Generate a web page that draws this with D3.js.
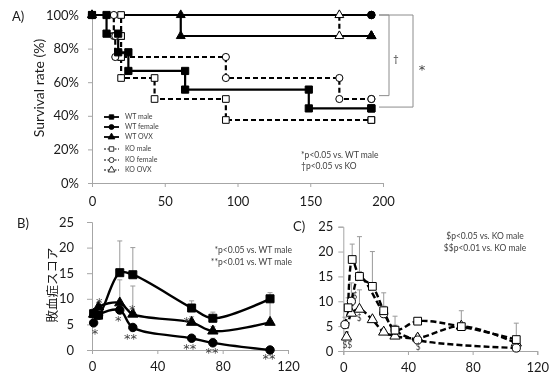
<!DOCTYPE html>
<html>
<head>
<meta charset="utf-8">
<script src="https://cdn.jsdelivr.net/npm/d3@7"></script>
<style>
  body { margin: 0; background: #fff; }
  svg { will-change: transform; }
  text { font-family: Lato, "Noto Sans", sans-serif; }
</style>
</head>
<body>
<svg id="chart" width="551" height="379"></svg>
<script>
// ---------- Panel A: survival (Kaplan-Meier), days vs %
var aXTicks = [0, 50, 100, 150, 200];
var aYTicks = [0, 20, 40, 60, 80, 100];
var wtMaleT   = [0, 10, 18, 25, 64, 149, 192];
var wtMaleS   = [100, 88.9, 77.8, 66.7, 55.6, 44.4, 44.4];
var wtFemaleT = [0, 192];
var wtFemaleS = [100, 100];
var wtOvxT    = [0, 61, 192];
var wtOvxS    = [100, 87.5, 87.5];
var koMaleT   = [0, 20, 20, 20, 43, 92, 192];
var koMaleS   = [100, 87.5, 75, 62.5, 50, 37.5, 37.5];
var koFemaleT = [0, 15, 16, 92, 170, 192];
var koFemaleS = [100, 87.5, 75, 62.5, 50, 50];
var koOvxT    = [0, 170, 192];
var koOvxS    = [100, 87.5, 87.5];
var groupNames = ["WT male", "WT female", "WT OVX", "KO male", "KO female", "KO OVX"];

// ---------- Panel B: sepsis score, WT groups (hours)
var bXTicks = [0, 40, 80, 120];
var scoreTicks = [0, 5, 10, 15, 20, 25];
var bTime      = [1, 4, 17, 25, 61, 74, 109];
var bMale      = [7.1, 6.8, 15.1, 14.7, 8.2, 6.2, 10.0];
var bMaleErr   = [0.9, 1.4, 6.2, 5.3, 1.4, 1.2, 1.2];
var bFemale    = [5.3, 6.8, 7.8, 4.4, 2.3, 1.4, 0];
var bFemaleErr = [0.6, 0.6, 0.6, 0.6, 0.4, 0.9, 0];
var bOvx       = [7.0, 8.4, 9.2, 7.0, 5.4, 3.7, 5.4];
var bOvxErr    = [0.8, 0.8, 4.5, 5.5, 1.1, 0.9, 4.5];
var bStarX   = [1.8, 4.5, 16.1, 24.7, 23.5, 58, 59.8, 73.5, 108.4];
var bStarY   = [3.9, 9.8, 6.4, 8.6, 2.8, 6.2, 0.8, 0.1, -1.1];
var bStarTxt = ["*", "*", "*", "*", "**", "*", "**", "**", "**"];

// ---------- Panel C: sepsis score, KO groups (hours)
var cXTicks = [0, 40, 80, 120];
var cMaleT     = [3, 5.5, 10, 18, 25, 32, 46, 73, 107];
var cMale      = [8.7, 18.4, 15.0, 13.0, 8.1, 4.2, 6.0, 4.9, 2.3];
var cMaleErr   = [2.0, 3.1, 8.0, 7.0, 3.6, 2.8, 0.5, 3.2, 3.3];
var cFemaleT   = [1, 5, 10, 25, 32, 46, 107];
var cFemale    = [5.3, 10.0, 15.0, 7.5, 4.2, 2.2, 0.6];
var cFemaleErr = [1.5, 3.7, 1.0, 1.5, 1.0, 1.0, 0.3];
var cOvxT      = [2, 5, 10, 18, 25, 32, 46, 73, 107];
var cOvx       = [2.8, 7.6, 8.4, 6.3, 3.8, 3.0, 2.6, 5.0, 1.6];
var cOvxErr    = [1.0, 1.5, 3.9, 0.5, 0.5, 0.5, 0.6, 0.6, 0.8];
var cSignX   = [2.5, 7.2, 9.9, 46.4];
var cSignY   = [1.2, 11.1, 6.6, 0.9];
var cSignTxt = ["$$", "$", "$", "$"];

var axisColor = "#a6a6a6",
    textColor = "#1a1a1a",
    noteColor = "#404040",
    errColor = "#9a9a9a";

var svg = d3.select("#chart");
svg.append("rect").attr("width", 551).attr("height", 379).attr("fill", "#fff");

function styleAxis(g, size) {
  g.select(".domain").attr("stroke", axisColor);
  g.selectAll(".tick line").attr("stroke", axisColor);
  g.selectAll(".tick text")
    .attr("fill", textColor)
    .style("font-family", "Lato")
    .style("font-size", size + "px");
}

function zip(xs, ys) {
  return xs.map(function (x, i) { return [x, ys[i]]; });
}

// ============ Panel A ============
var xA = d3.scaleLinear().domain([0, 200]).range([92, 383]);
var yA = d3.scaleLinear().domain([0, 100]).range([183, 15]);

svg.append("g")
  .attr("transform", "translate(0,183)")
  .call(d3.axisBottom(xA).tickValues(aXTicks).tickSize(4).tickPadding(10))
  .call(styleAxis, 13);

svg.append("g")
  .attr("transform", "translate(92,0)")
  .call(d3.axisLeft(yA).tickValues(aYTicks).tickSize(4).tickPadding(9)
    .tickFormat(function (d) { return d + "%"; }))
  .call(styleAxis, 13);

var aSeries = [
  { t: koMaleT,   s: koMaleS,   sym: d3.symbolSquare,   size: 44, open: true },
  { t: koFemaleT, s: koFemaleS, sym: d3.symbolCircle,   size: 40, open: true },
  { t: koOvxT,    s: koOvxS,    sym: d3.symbolTriangle, size: 34, open: true },
  { t: wtOvxT,    s: wtOvxS,    sym: d3.symbolTriangle, size: 34, open: false },
  { t: wtFemaleT, s: wtFemaleS, sym: d3.symbolCircle,   size: 44, open: false },
  { t: wtMaleT,   s: wtMaleS,   sym: d3.symbolSquare,   size: 52, open: false }
];

var stepLine = d3.line()
  .curve(d3.curveStepAfter)
  .x(function (d) { return xA(d[0]); })
  .y(function (d) { return yA(d[1]); });

aSeries.forEach(function (ser) {
  svg.append("path")
    .attr("d", stepLine(zip(ser.t, ser.s)))
    .attr("fill", "none")
    .attr("stroke", "#000")
    .attr("stroke-width", 2.2)
    .attr("stroke-dasharray", ser.open ? "5,3" : null);
});

aSeries.forEach(function (ser) {
  // a marker before and after every step
  var pts = [[ser.t[0], ser.s[0]]];
  for (var k = 1; k < ser.t.length; k++) {
    pts.push([ser.t[k], ser.s[k - 1]]);
    pts.push([ser.t[k], ser.s[k]]);
  }
  svg.selectAll(null)
    .data(pts)
    .enter()
    .append("path")
    .attr("d", d3.symbol().type(ser.sym).size(ser.size))
    .attr("transform", function (d) {
      return "translate(" + xA(d[0]) + "," + yA(d[1]) + ")";
    })
    .attr("fill", ser.open ? "#fff" : "#000")
    .attr("stroke", "#000")
    .attr("stroke-width", 1);
});

// legend
var legendSym = [d3.symbolSquare, d3.symbolCircle, d3.symbolTriangle,
                 d3.symbolSquare, d3.symbolCircle, d3.symbolTriangle];
var legendY = [117, 127, 137, 149, 160, 170];
var legend = svg.selectAll(".legend")
  .data(groupNames)
  .enter()
  .append("g")
  .attr("class", "legend")
  .attr("transform", function (d, i) { return "translate(104," + legendY[i] + ")"; });

legend.append("line")
  .attr("x1", 0).attr("x2", 15)
  .attr("stroke", "#000")
  .attr("stroke-width", function (d, i) { return i < 3 ? 1.8 : 1; })
  .attr("stroke-dasharray", function (d, i) { return i < 3 ? null : "2,1.5"; });

legend.append("path")
  .attr("d", function (d, i) { return d3.symbol().type(legendSym[i]).size(20)(); })
  .attr("transform", "translate(7.5,0)")
  .attr("fill", function (d, i) { return i < 3 ? "#000" : "#fff"; })
  .attr("stroke", "#000")
  .attr("stroke-width", 0.8);

legend.append("text")
  .attr("x", 21)
  .attr("dy", "0.35em")
  .attr("fill", noteColor)
  .style("font-size", "7px")
  .text(function (d) { return d; });

// significance brackets
var bracketColor = "#8c8c8c";
svg.append("path")
  .attr("d", "M" + (xA(200) - 4) + "," + yA(100) + "H" + (xA(200) + 6) +
             "V" + yA(52) + "H" + (xA(200) - 4))
  .attr("fill", "none").attr("stroke", bracketColor).attr("stroke-width", 1);
svg.append("path")
  .attr("d", "M" + (xA(200) - 4) + "," + yA(100) + "H" + (xA(200) + 30) +
             "V" + yA(45.2) + "H" + (xA(200) - 4))
  .attr("fill", "none").attr("stroke", bracketColor).attr("stroke-width", 1);
svg.append("text").attr("x", 396).attr("y", 62).attr("text-anchor", "middle")
  .attr("fill", noteColor).style("font-size", "10px").text("†");
svg.append("text").attr("x", 422).attr("y", 66).attr("dy", "0.58em")
  .attr("text-anchor", "middle")
  .attr("fill", noteColor)
  .style("font-family", "'DejaVu Sans'").style("font-size", "13px").text("*");

svg.append("text").attr("x", 301).attr("y", 158)
  .attr("fill", noteColor).style("font-size", "8.5px").text("*p<0.05 vs. WT male");
svg.append("text").attr("x", 301).attr("y", 169)
  .attr("fill", noteColor).style("font-size", "8.5px").text("†p<0.05 vs KO");

svg.append("text").attr("x", 12).attr("y", 21)
  .attr("fill", textColor).style("font-size", "13px").text("A)");
svg.append("text")
  .attr("transform", "translate(44,88) rotate(-90)")
  .attr("text-anchor", "middle")
  .attr("fill", textColor).style("font-size", "14px")
  .text("Survival rate (%)");

// ============ Panel B / C helpers ============
function scorePanel(xS, yS, xTicks, yPad, xPad) {
  svg.append("g")
    .attr("transform", "translate(0," + yS.range()[0] + ")")
    .call(d3.axisBottom(xS).tickValues(xTicks).tickSize(4).tickPadding(xPad))
    .call(styleAxis, 13);
  svg.append("g")
    .attr("transform", "translate(" + xS.range()[0] + ",0)")
    .call(d3.axisLeft(yS).tickValues(scoreTicks).tickSize(5).tickPadding(yPad))
    .call(styleAxis, 13);
}

function scoreSeries(xS, yS, ts, vs, errs, sym, size, open) {
  var pts = zip(ts, vs);
  // upper error bars
  var eb = svg.append("g");
  pts.forEach(function (p, i) {
    if (!errs[i]) return;
    var top = yS(p[1] + errs[i]);
    eb.append("line")
      .attr("x1", xS(p[0])).attr("x2", xS(p[0]))
      .attr("y1", yS(p[1])).attr("y2", top)
      .attr("stroke", errColor).attr("stroke-width", 1);
    eb.append("line")
      .attr("x1", xS(p[0]) - 2.5).attr("x2", xS(p[0]) + 2.5)
      .attr("y1", top).attr("y2", top)
      .attr("stroke", errColor).attr("stroke-width", 1);
  });
  var line = d3.line()
    .curve(d3.curveCatmullRom.alpha(0.5))
    .x(function (d) { return xS(d[0]); })
    .y(function (d) { return yS(d[1]); });
  var s = { path: null, pts: pts, sym: sym, size: size, open: open };
  s.path = svg.append("path")
    .attr("d", line(pts))
    .attr("fill", "none")
    .attr("stroke", "#000")
    .attr("stroke-width", 2.4)
    .attr("stroke-dasharray", open ? "6,3" : null);
  return s;
}

function scoreMarkers(xS, yS, s) {
  svg.selectAll(null)
    .data(s.pts)
    .enter()
    .append("path")
    .attr("d", d3.symbol().type(s.sym).size(s.size))
    .attr("transform", function (d) {
      return "translate(" + xS(d[0]) + "," + yS(d[1]) + ")";
    })
    .attr("fill", s.open ? "#fff" : "#000")
    .attr("stroke", "#000")
    .attr("stroke-width", 1);
}

// ============ Panel B ============
var xB = d3.scaleLinear().domain([0, 120]).range([92, 288]);
var yB = d3.scaleLinear().domain([0, 25]).range([350, 222]);
scorePanel(xB, yB, bXTicks, 13, 8);

var bS = [
  scoreSeries(xB, yB, bTime, bFemale, bFemaleErr, d3.symbolCircle, 56, false),
  scoreSeries(xB, yB, bTime, bOvx, bOvxErr, d3.symbolTriangle, 46, false),
  scoreSeries(xB, yB, bTime, bMale, bMaleErr, d3.symbolSquare, 64, false)
];
bS.forEach(function (s) { scoreMarkers(xB, yB, s); });

svg.selectAll(null)
  .data(bStarTxt)
  .enter()
  .append("text")
  .attr("x", function (d, i) { return xB(bStarX[i]); })
  .attr("y", function (d, i) { return yB(bStarY[i]); })
  .attr("dy", "0.58em")
  .attr("text-anchor", "middle")
  .attr("fill", noteColor)
  .style("font-family", "'DejaVu Sans'")
  .style("font-size", "13px")
  .text(function (d) { return d; });

svg.append("text").attr("x", 292).attr("y", 253).attr("text-anchor", "end")
  .attr("fill", noteColor).style("font-size", "8.5px").text("*p<0.05 vs. WT male");
svg.append("text").attr("x", 292).attr("y", 264.5).attr("text-anchor", "end")
  .attr("fill", noteColor).style("font-size", "8.5px").text("**p<0.01 vs. WT male");

svg.append("text").attr("x", 17).attr("y", 228)
  .attr("fill", textColor).style("font-size", "13px").text("B)");
svg.append("text")
  .attr("transform", "translate(57,285) rotate(-90)")
  .attr("text-anchor", "middle")
  .attr("fill", textColor)
  .style("font-family", "'Noto Sans CJK JP'")
  .style("font-size", "12.5px")
  .text("敗血症スコア");

// ============ Panel C ============
var xC = d3.scaleLinear().domain([0, 120]).range([343.3, 537.3]);
var yC = d3.scaleLinear().domain([0, 25]).range([351, 226.7]);
scorePanel(xC, yC, cXTicks, 5, 8);

var cS = [
  scoreSeries(xC, yC, cOvxT, cOvx, cOvxErr, d3.symbolTriangle, 46, true),
  scoreSeries(xC, yC, cFemaleT, cFemale, cFemaleErr, d3.symbolCircle, 52, true),
  scoreSeries(xC, yC, cMaleT, cMale, cMaleErr, d3.symbolSquare, 60, true)
];
cS.forEach(function (s) { scoreMarkers(xC, yC, s); });

svg.selectAll(null)
  .data(cSignTxt)
  .enter()
  .append("text")
  .attr("x", function (d, i) { return xC(cSignX[i]); })
  .attr("y", function (d, i) { return yC(cSignY[i]); })
  .attr("dy", "0.35em")
  .attr("text-anchor", "middle")
  .attr("fill", noteColor)
  .style("font-size", "8.5px")
  .text(function (d) { return d; });

svg.append("text").attr("x", 485).attr("y", 239).attr("text-anchor", "middle")
  .attr("fill", noteColor).style("font-size", "8.5px").text("$p<0.05 vs. KO male");
svg.append("text").attr("x", 485).attr("y", 250.5).attr("text-anchor", "middle")
  .attr("fill", noteColor).style("font-size", "8.5px").text("$$p<0.01 vs. KO male");

svg.append("text").attr("x", 293).attr("y", 231)
  .attr("fill", textColor).style("font-size", "13px").text("C)");
</script>
</body>
</html>
